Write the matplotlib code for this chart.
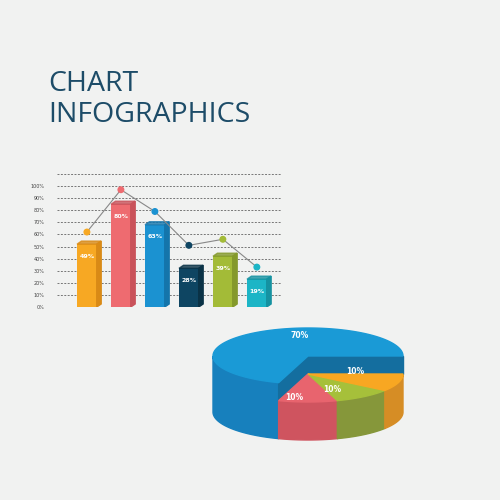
import numpy as np
import matplotlib
matplotlib.use("Agg")
import matplotlib.pyplot as plt
from matplotlib.patches import Polygon

bar_labels = ["49%", "80%", "63%", "28%", "39%", "19%"]
bar_heights = [52, 85, 68, 32, 42, 23]
line_values = [62, 97, 79, 51, 56, 33]
bar_colors = ["#f7a823", "#ee6b70", "#1b92d1", "#0e4562", "#a3bb37", "#1cb5c6"]
side_colors = ["#d98a16", "#c9525a", "#1475ab", "#0a3246", "#84992b", "#1592a1"]
yticks = list(range(0, 101, 10))
pie_labels = ["70%", "10%", "10%", "10%"]
pie_shares = [70, 10, 10, 10]

BG = "#f1f2f1"
fig = plt.figure(figsize=(5, 5), dpi=100, facecolor=BG)

# title
fig.text(48/500, 1-129/500, "CHART\nINFOGRAPHICS", color="#1d4c68", fontsize=20.5,
         fontfamily="Open Sans", linespacing=1.12, va="bottom")

# bar chart
ax = fig.add_axes([57/500, 1-307/500, 225/500, 133/500])
ax.set_facecolor("none")
ax.set_xlim(-0.88, 5.74)
ax.set_ylim(0, 110)
for v in list(range(0, 111, 10)):
    ax.axhline(v, color="#777777", lw=0.7, ls=(0, (2, 1.5)), zorder=0)
x = np.arange(len(bar_heights))
w = 0.58
dx, dy = 0.13, 2.5
for i, h in enumerate(bar_heights):
    ax.bar(x[i], h, w, color=bar_colors[i], zorder=2)
    ax.add_patch(Polygon([(x[i]+w/2, 0), (x[i]+w/2+dx, dy), (x[i]+w/2+dx, h+dy), (x[i]+w/2, h)],
                         color=side_colors[i], zorder=2))
    ax.add_patch(Polygon([(x[i]-w/2, h), (x[i]-w/2+dx, h+dy), (x[i]+w/2+dx, h+dy), (x[i]+w/2, h)],
                         color=side_colors[i], alpha=0.8, zorder=2))
    ax.text(x[i], h-10, bar_labels[i], color="white", fontsize=4.5, weight="bold",
            ha="center", va="center", zorder=3)
ax.plot(x, line_values, color="#888888", lw=0.8, zorder=3)
ax.scatter(x, line_values, c=bar_colors, s=16, zorder=4)
ax.set_yticks(yticks)
ax.set_yticklabels([f"{t}%" for t in yticks], fontsize=3.5, color="#444444")
ax.tick_params(length=0, pad=9)
ax.set_xticks([])
for s in ax.spines.values():
    s.set_visible(False)

# 3D pie in pixel coordinates
pa = fig.add_axes([0, 0, 1, 1])
pa.set_xlim(0, 500); pa.set_ylim(500, 0); pa.axis("off")
cx, cy, rx, ry, depth, drop = 308, 356, 95, 28, 56, 18
top_cols = ["#1a9ad6", "#e8646e", "#a6c03a", "#f8a722"]
side_cols = ["#1780bd", "#cf545f", "#86973a", "#d68d25"]
wall_col = "#146e9f"

def pt(t, r=1.0, h=0.0):
    return (cx + rx*r*np.cos(t), cy - ry*r*np.sin(t) + h)

angles = np.cumsum([0] + pie_shares) / 100 * 2*np.pi
levels = [0, drop, drop, drop]
for k in range(4):
    a0, a1 = angles[k], angles[k+1]
    ts = np.linspace(np.pi, a1, 80) if k == 0 else np.linspace(a0, a1, 120)
    top = [pt(t, 1, levels[k]) for t in ts]
    bot = [pt(t, 1, depth) for t in ts[::-1]]
    pa.add_patch(Polygon(top + bot, color=side_cols[k], zorder=1))
for a in [angles[0], angles[1]]:
    poly = [pt(a, 0, 0), pt(a, 1, 0), pt(a, 1, drop), pt(a, 0, drop)]
    pa.add_patch(Polygon(poly, color=wall_col, zorder=2))
for k in range(4):
    ts = np.linspace(angles[k], angles[k+1], 120)
    poly = [pt(0, 0, levels[k])] + [pt(t, 1, levels[k]) for t in ts]
    pa.add_patch(Polygon(poly, color=top_cols[k], zorder=3 if k else 2))
label_pos = [(300, 336), (294, 398), (332, 389), (355, 372)]
for (lx, ly), lab in zip(label_pos, pie_labels):
    pa.text(lx, ly, lab, color="white", fontsize=5.5, weight="bold", ha="center", va="center", zorder=5)

fig.savefig("out.png", dpi=100, facecolor=BG)
